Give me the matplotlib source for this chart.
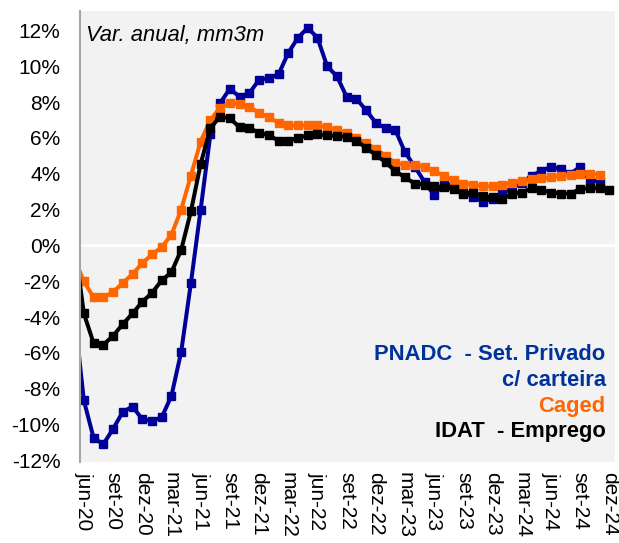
import numpy as np
import matplotlib.pyplot as plt

plt.rcParams['font.family'] = ['Liberation Sans', 'DejaVu Sans']

# eixo mensal: mai-20 ate dez-24 (mai-20 fica fora da janela, so a linha aparece)
tick_labels = ['jun-20', 'set-20', 'dez-20', 'mar-21', 'jun-21', 'set-21', 'dez-21',
               'mar-22', 'jun-22', 'set-22', 'dez-22', 'mar-23', 'jun-23', 'set-23',
               'dez-23', 'mar-24', 'jun-24', 'set-24', 'dez-24']

# PNADC - setor privado c/ carteira (mai-20 .. nov-24)
pnadc = [-3.65, -8.65, -10.75, -11.1, -10.25, -9.3, -9.0, -9.7, -9.8, -9.6, -8.4,
         -5.95, -2.1, 2.0, 6.2, 7.95, 8.75, 8.3, 8.5, 9.25, 9.35, 9.55, 10.75,
         11.6, 12.15, 11.6, 10.0, 9.45, 8.3, 8.2, 7.55, 6.85, 6.55, 6.45, 5.2,
         4.4, 3.55, 2.8, 3.5, 3.3, 3.0, 2.7, 2.45, 2.6, 2.9, 3.2, 3.5, 3.9, 4.15,
         4.4, 4.25, 4.0, 4.4, 3.6, 3.6]

# Caged (mai-20 .. nov-24)
caged = [-0.7, -2.0, -2.9, -2.9, -2.6, -2.1, -1.6, -1.0, -0.5, -0.1, 0.6, 2.0,
         3.9, 5.8, 7.0, 7.7, 7.95, 7.9, 7.75, 7.4, 7.15, 6.85, 6.7, 6.7, 6.7,
         6.7, 6.6, 6.45, 6.3, 6.0, 5.7, 5.4, 5.0, 4.6, 4.5, 4.5, 4.4, 4.15, 3.9,
         3.65, 3.45, 3.4, 3.3, 3.3, 3.4, 3.5, 3.6, 3.7, 3.75, 3.8, 3.9, 3.95,
         4.0, 4.0, 3.95]

# IDAT - Emprego (mai-20 .. dez-24)
idat = [0.3, -3.8, -5.45, -5.55, -5.05, -4.4, -3.8, -3.15, -2.65, -1.95, -1.5,
        -0.25, 1.9, 4.55, 6.55, 7.2, 7.1, 6.6, 6.55, 6.3, 6.15, 5.85, 5.85, 6.0,
        6.15, 6.2, 6.15, 6.1, 6.05, 5.85, 5.45, 5.05, 4.65, 4.15, 3.8, 3.45,
        3.4, 3.3, 3.25, 3.15, 2.9, 2.95, 2.75, 2.7, 2.6, 2.9, 2.95, 3.2, 3.1,
        2.95, 2.9, 2.9, 3.15, 3.2, 3.2, 3.1]

blue = '#000099'
orange = '#FF6600'

fig = plt.figure(figsize=(6.19, 5.43), dpi=100, facecolor='w')
ax = fig.add_axes([0.129, 0.149, 0.865, 0.831], facecolor='#F2F2F2')

ax.axhline(0, color='w', lw=2, zorder=1)

series = [(pnadc, blue), (caged, orange), (idat, 'black')]
for vals, c in series:
    x = np.arange(len(vals)) - 1
    ax.plot(x, vals, color=c, lw=2.9, marker='s', ms=5.8, zorder=2)

ax.set_xlim(-0.41, 54.6)
ax.set_ylim(-12.1, 13.1)

ax.set_yticks(np.arange(-12, 13, 2))
ax.set_yticklabels([f'{v}%' for v in range(-12, 13, 2)], fontsize=15)
ax.set_xticks(np.arange(0, 55, 3))
ax.set_xticklabels(tick_labels, fontsize=15, rotation=270, ha='center', va='top')
ax.tick_params(axis='y', length=0, pad=14)
ax.tick_params(axis='x', length=0, pad=7)

for side in ('top', 'right', 'bottom'):
    ax.spines[side].set_visible(False)
ax.spines['left'].set_color('#A6A6A6')
ax.spines['left'].set_linewidth(1.5)

ax.text(0.012, 0.945, 'Var. anual, mm3m', transform=ax.transAxes, fontsize=15.8,
        style='italic', va='center', ha='left')

legend_x = 0.982
ax.text(legend_x, 0.238, 'PNADC  - Set. Privado', transform=ax.transAxes, color='#003399',
        fontsize=15.8, fontweight='bold', ha='right', va='center')
ax.text(legend_x, 0.181, 'c/ carteira', transform=ax.transAxes, color='#003399',
        fontsize=15.8, fontweight='bold', ha='right', va='center')
ax.text(legend_x, 0.123, 'Caged', transform=ax.transAxes, color=orange,
        fontsize=15.8, fontweight='bold', ha='right', va='center')
ax.text(legend_x, 0.068, 'IDAT  - Emprego', transform=ax.transAxes, color='black',
        fontsize=15.8, fontweight='bold', ha='right', va='center')

fig.savefig('out.png', dpi=100)
